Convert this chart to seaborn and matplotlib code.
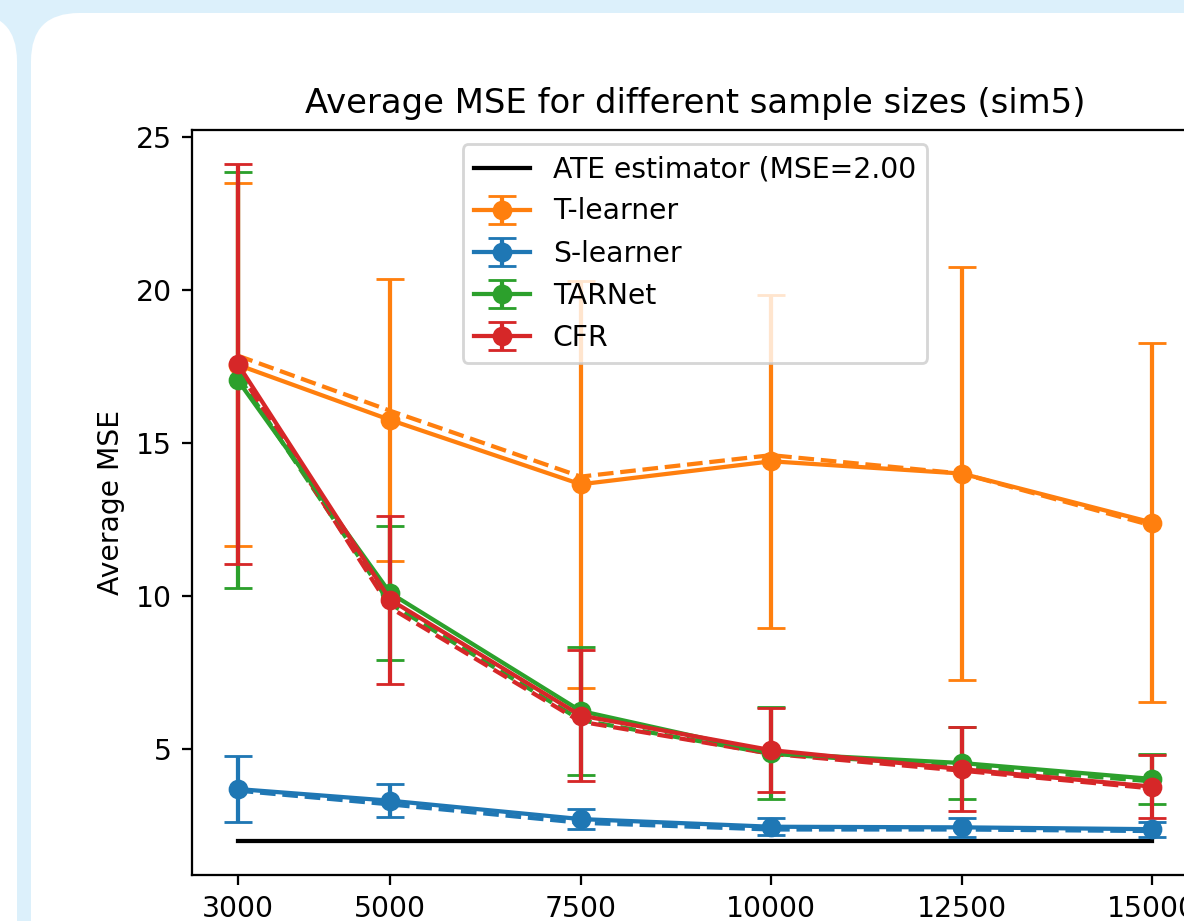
import matplotlib
matplotlib.use("Agg")
import matplotlib.pyplot as plt
from matplotlib.patches import FancyBboxPatch
from matplotlib.transforms import IdentityTransform
import seaborn as sns
import numpy as np

# sample sizes on the x axis
sample_sizes = [3000, 5000, 7500, 10000, 12500, 15000]

# ATE baseline
ate_mse = [2.0, 2.0, 2.0, 2.0, 2.0, 2.0]
ate_label = "ATE estimator (MSE=2.00"

# mean MSE (solid line with markers) and std (error bars)
t_mean = [17.55, 15.75, 13.65, 14.40, 14.00, 12.40]
t_std = [5.92, 4.60, 6.65, 5.43, 6.74, 5.87]
s_mean = [3.70, 3.32, 2.72, 2.47, 2.45, 2.39]
s_std = [1.08, 0.53, 0.34, 0.28, 0.30, 0.25]
tar_mean = [17.05, 10.10, 6.25, 4.87, 4.55, 4.03]
tar_std = [6.80, 2.20, 2.10, 1.50, 1.17, 0.83]
cfr_mean = [17.58, 9.88, 6.10, 4.97, 4.35, 3.78]
cfr_std = [6.53, 2.75, 2.15, 1.36, 1.36, 1.04]

# second (dashed) estimate per model
t_dash = [17.85, 16.05, 13.90, 14.60, 14.00, 12.30]
s_dash = [3.65, 3.20, 2.60, 2.38, 2.38, 2.33]
tar_dash = [17.20, 9.75, 5.95, 4.85, 4.45, 3.95]
cfr_dash = [17.40, 9.62, 5.90, 4.85, 4.30, 3.72]

models = ["T-learner", "S-learner", "TARNet", "CFR"]
colors = sns.color_palette("tab10")
model_colors = [colors[1], colors[0], colors[2], colors[3]]

DPI = 203
fig = plt.figure(figsize=(1184 / DPI, 921 / DPI), dpi=DPI, facecolor="#dcf0fb")

# page cards behind the chart (pixel coordinates)
card = FancyBboxPatch((31, -200), 1400, 908 + 200, boxstyle="round,pad=0,rounding_size=48",
                      transform=IdentityTransform(), facecolor="white", edgecolor="none", zorder=-10)
left_card = FancyBboxPatch((-300, -200), 317, 908 + 200, boxstyle="round,pad=0,rounding_size=48",
                           transform=IdentityTransform(), facecolor="white", edgecolor="none", zorder=-10)
fig.patches.extend([card, left_card])

ax = fig.add_axes([192 / 1184, 46 / 921, 1006 / 1184, 745 / 921])
ax.set_facecolor("white")

sns.lineplot(x=sample_sizes, y=ate_mse, color="black", label=ate_label, ax=ax)

series = [
    (t_mean, t_std, t_dash),
    (s_mean, s_std, s_dash),
    (tar_mean, tar_std, tar_dash),
    (cfr_mean, cfr_std, cfr_dash),
]
for name, c, (m, sd, d) in zip(models, model_colors, series):
    ax.errorbar(sample_sizes, m, yerr=sd, fmt="-o", color=c, capsize=5, label=name)
    sns.lineplot(x=sample_sizes, y=d, color=c, linestyle="--", ax=ax, legend=False)

ax.set_xticks(sample_sizes)
ax.set_title("Average MSE for different sample sizes (sim5)")
ax.set_ylabel("Average MSE")
ax.legend(loc="upper center")

fig.savefig("out.png", dpi=DPI, facecolor=fig.get_facecolor())
